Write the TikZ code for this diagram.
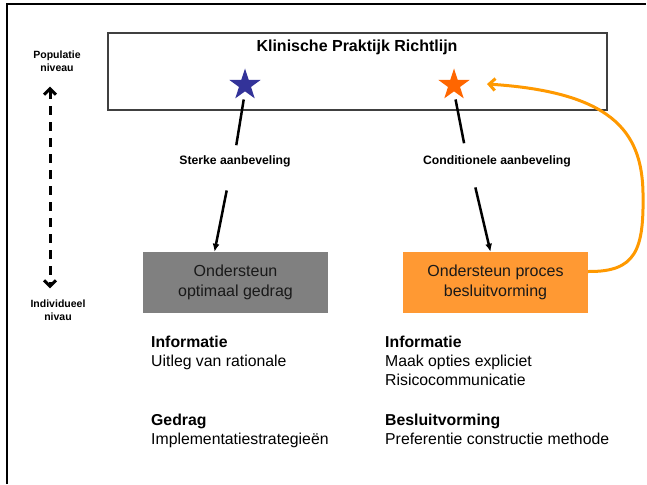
\documentclass[tikz,border=0pt]{standalone}
\usepackage{fontspec}
\setmainfont{Liberation Sans}
\usetikzlibrary{shapes.geometric,arrows.meta}
\definecolor{sterblauw}{HTML}{333399}
\definecolor{steroranje}{HTML}{FF6600}
\definecolor{vakgrijs}{HTML}{808080}
\definecolor{vakoranje}{HTML}{FF9933}
\definecolor{lusoranje}{HTML}{FF9900}
\tikzset{
	ster/.style={star, star points=5, star point ratio=2.6, minimum size=33pt, inner sep=0pt},
	advies/.style={font=\fontsize{12.2}{14}\selectfont\bfseries, inner sep=2pt},
	niveau/.style={font=\fontsize{10.5}{13}\selectfont\bfseries, align=center, inner sep=1pt},
	steunvak/.style={minimum width=185pt, minimum height=61pt, align=center, font=\fontsize{16}{20}\selectfont, text=black!90},
	uitleg/.style={anchor=north west, align=left, inner sep=0pt, font=\fontsize{15.8}{19}\selectfont},
	lijn/.style={line width=2.5pt},
	pijl/.style={line width=2.5pt, -{Latex[length=8pt,width=7pt]}},
}
\begin{document}
\begin{tikzpicture}[x=1pt, y=-1pt]
		\useasboundingbox (0,0) rectangle (647,484);
		\draw [line width=2pt] (7,484) -- (7,4) -- (646,4);
		\node [draw=black!75, line width=1.3pt, minimum width=499pt, minimum height=77pt] (richtlijn) at (357.5,71.5) {};
		\node [font=\fontsize{16}{19}\selectfont\bfseries] (titel) at (357,47) {Klinische Praktijk Richtlijn};
		\node [ster, fill=sterblauw] (blauw) at (245,85) {};
		\node [ster, fill=steroranje] (oranje) at (454,85) {};
		\node [advies] (sterk) at (235,161) {Sterke aanbeveling};
		\node [advies] (conditioneel) at (497,161) {Conditionele aanbeveling};
		\node [steunvak, fill=vakgrijs] (gedrag) at (235.5,282.5) {Ondersteun\\optimaal gedrag};
		\node [steunvak, fill=vakoranje] (besluit) at (495.5,282.5) {Ondersteun proces\\besluitvorming};
		\node [niveau] (populatie) at (57,61) {Populatie\\niveau};
		\node [niveau] (individu) at (58,310) {Individueel\\nivau};
		\draw [lijn, shorten <=8pt, shorten >=8pt] (blauw.south) -- (sterk.north);
		\draw [pijl, shorten <=22pt] ([xshift=-4pt]sterk.south) -- ([xshift=-21pt]gedrag.north);
		\draw [lijn, shorten <=8pt, shorten >=10pt] (oranje.south) -- ([xshift=-31pt]conditioneel.north);
		\draw [pijl, shorten <=19pt] ([xshift=-26pt]conditioneel.south) -- ([xshift=-5pt]besluit.north);
		\draw [line width=3pt, dash pattern=on 9pt off 7pt, {Straight Barb[length=6pt,width=12pt,line width=3pt]}-{Straight Barb[length=6pt,width=12pt,line width=3pt]}, shorten <=14pt, shorten >=10pt] ([xshift=-7pt]populatie.south) -- ([xshift=-8pt]individu.north);
		\draw [lusoranje, line width=3pt, -{Straight Barb[length=6pt,width=12pt]}] ([yshift=11pt]besluit.east) .. controls (636,272) and (644,250) .. (643,193) .. controls (642,130) and (610,92) .. ([xshift=33pt,yshift=1pt]oranje.center);
		\node [uitleg] (info1) at (151,336) {\textbf{Informatie}\\Uitleg van rationale};
		\node [uitleg] (gedr) at (151,414) {\textbf{Gedrag}\\Implementatiestrategieën};
		\node [uitleg] (info2) at (385,336) {\textbf{Informatie}\\Maak opties expliciet\\Risicocommunicatie};
		\node [uitleg] (besl) at (385,414) {\textbf{Besluitvorming}\\Preferentie constructie methode};
	\end{tikzpicture}
\end{document}
